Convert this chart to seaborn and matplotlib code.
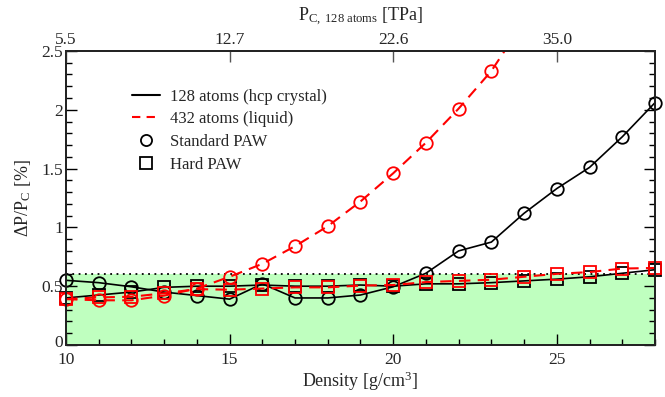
import matplotlib
matplotlib.use("Agg")
import matplotlib.pyplot as plt
import matplotlib.transforms as mtransforms
from matplotlib.lines import Line2D
from matplotlib.ticker import MultipleLocator
import seaborn as sns
import pandas as pd

# density grid [g/cm^3]
density = list(range(10, 29))

# dP/P_C [%]
std_128 = [0.55, 0.53, 0.495, 0.45, 0.42, 0.39, 0.52, 0.40, 0.40, 0.425, 0.495,
           0.61, 0.80, 0.875, 1.12, 1.33, 1.51, 1.77, 2.06]
hard_128 = [0.40, 0.425, 0.45, 0.49, 0.50, 0.50, 0.51, 0.50, 0.50, 0.51, 0.50,
            0.52, 0.52, 0.53, 0.545, 0.56, 0.58, 0.61, 0.64]
std_432 = [0.39, 0.38, 0.38, 0.42, 0.48, 0.58, 0.69, 0.84, 1.01, 1.22, 1.46,
           1.72, 2.01, 2.33, 2.75]
hard_432 = [0.39, 0.405, 0.41, 0.44, 0.475, 0.47, 0.48, 0.49, 0.49, 0.505, 0.51,
            0.535, 0.545, 0.555, 0.58, 0.605, 0.62, 0.65, 0.655]

# top axis: P_C (128 atoms) at density 10, 15, 20, 25
top_ticks = [10, 15, 20, 25]
top_labels = ["5.5", "12.7", "22.6", "35.0"]

green_limit = 0.6

sns.set_theme(style="ticks")
plt.rcParams["font.family"] = ["Liberation Serif", "DejaVu Serif"]
plt.rcParams["mathtext.fontset"] = "custom"
plt.rcParams["mathtext.rm"] = "Liberation Serif"
plt.rcParams["mathtext.it"] = "Liberation Serif:italic"

fig = plt.figure(figsize=(6.65, 3.97), dpi=100)
ax = fig.add_axes([0.0992, 0.131, 0.8857, 0.7406])

ax.axhspan(0, green_limit, color="#bfffbf", zorder=0, lw=0)
ax.axhline(green_limit, color="black", ls=(0, (1, 2.5)), lw=1.3, zorder=1)

df_std128 = pd.DataFrame({"d": density, "v": std_128})
df_hard128 = pd.DataFrame({"d": density, "v": hard_128})
df_std432 = pd.DataFrame({"d": density[:len(std_432)], "v": std_432})
df_hard432 = pd.DataFrame({"d": density, "v": hard_432})
# markers of the liquid series that sit inside the plot range
df_std432_in = df_std432[df_std432["v"] <= 2.5]

mk = dict(markersize=9, markerfacecolor="none", markeredgewidth=1.3, clip_on=False)
dash = (0, (5.5, 3.5))
sns.lineplot(data=df_std128, x="d", y="v", ax=ax, color="black", lw=1.2,
             marker="o", markeredgecolor="black", **mk)
sns.lineplot(data=df_hard128, x="d", y="v", ax=ax, color="black", lw=1.2,
             marker="s", markeredgecolor="black", **mk)
sns.lineplot(data=df_hard432, x="d", y="v", ax=ax, color="red", lw=1.5,
             linestyle=dash, marker="s", markeredgecolor="red", **mk)
sns.lineplot(data=df_std432, x="d", y="v", ax=ax, color="red", lw=1.5,
             linestyle=dash)
sns.lineplot(data=df_std432_in, x="d", y="v", ax=ax, color="red", lw=0,
             linestyle="none", marker="o", markeredgecolor="red", **mk)

ax.set_xlim(10, 28)
ax.set_ylim(0, 2.5)
ax.xaxis.set_major_locator(MultipleLocator(5))
ax.xaxis.set_minor_locator(MultipleLocator(1))
ax.yaxis.set_major_locator(MultipleLocator(0.5))
ax.yaxis.set_minor_locator(MultipleLocator(0.1))
ax.set_yticks([0, 0.5, 1, 1.5, 2, 2.5])
ax.set_yticklabels(["0", "0.5", "1", "1.5", "2", "2.5"])
ax.tick_params(which="both", direction="in", right=True, top=False,
               labelsize=12.5, color="black")
ax.tick_params(axis="x", pad=5)
ax.tick_params(axis="y", pad=2)
ax.tick_params(which="major", length=8, width=1)
ax.tick_params(which="minor", length=4, width=1)
for s in ax.spines.values():
    s.set_linewidth(1.3)
    s.set_color("black")
    s.set_visible(True)

# nudge the "0" label up a little so it clears the "10" below it
lab0 = ax.get_yticklabels()[0]
lab0.set_transform(lab0.get_transform()
                   + mtransforms.ScaledTranslation(0, 3 / 72, fig.dpi_scale_trans))

ax.set_xlabel("Density [g/cm$^3$]", fontsize=13, labelpad=1)
ax.set_ylabel(r"ΔP/P$_\mathrm{C}$ [%]", fontsize=13, labelpad=6)

top = ax.twiny()
top.set_xlim(10, 28)
top.set_xticks(top_ticks)
top.set_xticklabels(top_labels)
top.tick_params(direction="in", length=8, width=1, labelsize=12.5, pad=2,
                color="#555555")
top.set_xlabel(r"P$_\mathrm{C,\ 128\ atoms}$ [TPa]", fontsize=13, labelpad=8)

handles = [
    Line2D([], [], color="black", lw=1.5),
    Line2D([], [], color="red", lw=1.5, ls=(0, (4, 3))),
    Line2D([], [], ls="none", marker="o", markerfacecolor="none",
           markeredgecolor="black", markersize=8, markeredgewidth=1.3),
    Line2D([], [], ls="none", marker="s", markerfacecolor="none",
           markeredgecolor="black", markersize=8, markeredgewidth=1.3),
]
labels = ["128 atoms (hcp crystal)", "432 atoms (liquid)", "Standard PAW", "Hard PAW"]
ax.legend(handles, labels, loc="upper left", bbox_to_anchor=(0.1, 0.895),
          frameon=False, fontsize=12, handlelength=1.7, handletextpad=0.6,
          labelspacing=0.4, borderaxespad=0)

fig.savefig("out.png", dpi=100)
